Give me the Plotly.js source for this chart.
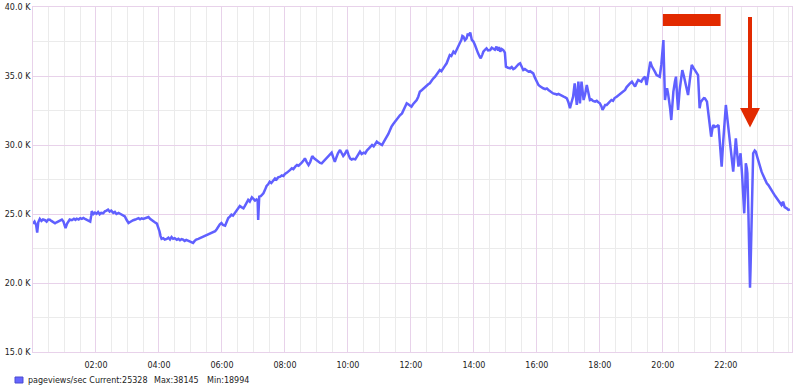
<!DOCTYPE html>
<html>
<head>
<meta charset="utf-8">
<script src="https://cdn.plot.ly/plotly-3.0.1.min.js"></script>
<style>
html,body{margin:0;padding:0;background:#fff;}
#chart{width:800px;height:390px;}
</style>
</head>
<body>
<div id="chart"></div>
<script>
// time in minutes since 00:00
const minutes = [
0,3,6,8,10,13,16,19,23,26,29,32,35,38,42,45,48,52,55,58,60,62,65,68,70,74,78,81,83,87,90,93,96,100,104,107,109,111,112,115,118,121,124,127,130,134,137,140,143,146,149,153,156,159,163,166,170,173,175,178,180,182,185,188,191,195,198,201,204,207,210,213,217,220,223,226,229,232,236,239,241,243,245,248,251,255,258,261,264,267,270,274,277,280,283,286,289,292,296,299,302,305,308,311,315,318,321,324,328,331,334,337,341,344,347,350,353,356,359,362,366,369,372,
375,378,381,385,388,391,394,397,401,404,407,410,413,417,420,423,426,428,429,431,434,437,439,442,445,448,451,454,458,461,464,467,471,474,477,480,484,487,490,493,496,500,503,506,509,512,515,518,521,525,528,532,535,538,540,544,547,550,553,556,560,563,566,569,572,575,578,581,585,588,591,594,598,601,604,607,610,614,617,620,623,626,630,633,636,640,643,646,649,652,655,658,662,665,668,671,674,677,680,683,686,690,693,696,699,703,706,709,712,715,718,721,724,727,731,734,737,741,744,747,
750,753,756,759,762,766,769,772,775,778,781,784,788,791,794,797,801,804,807,810,813,816,818,820,823,826,828,831,833,836,839,842,845,848,851,853,856,858,861,864,867,871,874,877,880,883,886,888,890,893,896,899,901,905,909,912,915,918,921,925,928,931,934,937,941,944,947,950,953,956,960,963,966,969,972,976,979,982,985,988,991,995,998,1001,1004,1008,1011,1014,1017,1020,1023,1026,1029,1032,1034,1036,1039,1042,1045,1047,1049,1052,1055,1058,1061,1064,1067,1071,1074,1077,1080,1083,1085,1088,1090,1093,1096,1099,1102,1105,1108,1112,1115,1118,
1121,1125,1128,1131,1134,1137,1141,1144,1147,1150,1153,1156,1159,1162,1166,1169,1172,1174,1176,1179,1182,1185,1188,1191,1194,1197,1199,1201,1202,1204,1206,1208,1210,1212,1214,1216,1218,1220,1223,1225,1227,1229,1232,1235,1237,1240,1242,1245,1248,1251,1255,1258,1261,1264,1267,1270,1272,1275,1278,1280,1282,1284,1286,1288,1290,1292,1294,1296,1299,1302,1304,1306,1309,1312,1315,1318,1320,1322,1325,1328,1330,1332,1334,1337,1339,1341,1344,1346,1348,1351,1353,1355,1357,1358,1360,1361,1363,1365,1366,1367,1369,1370,1372,1375,1377,1380,1382,1385,1388,1391,1394,1398,1401,1404,1407,1410,1414,1417,1420,1423,1426,1429,1432,1436,1439,1442
];
const pageviews = [
24300,24450,24200,23650,24400,24650,24500,24600,24550,24450,24600,24580,24500,24420,24330,24400,24480,24550,24600,24450,24200,23980,24300,24500,24600,24550,24650,24580,24660,24600,24700,24650,24720,24620,24550,24480,24450,24900,25200,25000,25100,25020,25150,24980,25080,25060,25200,25250,25320,25180,25250,25080,25150,25000,25080,25020,24950,24900,24820,24600,24450,24350,24420,24500,24550,24600,24680,24700,24620,24680,24640,24700,24720,24780,24650,24550,24470,24400,24300,24000,23740,23400,23200,23250,23150,23200,23280,23150,23330,23200,23250,23140,23200,23100,23180,23140,23050,23120,23050,23000,22950,22900,23050,23150,23200,23250,23300,23350,23400,23480,23500,23560,23650,23700,23750,23900,24100,24250,24350,24200,24150,24500,24710,
24810,24950,24880,25100,25200,25350,25580,25500,25410,25600,25850,26020,25900,26210,26100,25970,26050,25950,24570,26260,26300,26450,26500,26750,27030,27150,27340,27250,27450,27580,27500,27650,27700,27800,27750,27900,28000,28070,28200,28310,28250,28450,28550,28500,28650,28720,28850,29030,28800,28550,28750,29200,29050,28950,28910,28800,28700,28670,28800,28960,29100,29250,29350,29440,29100,28790,29100,29400,29640,29400,29200,29350,29640,29300,29030,28950,29000,28960,29150,29300,29520,29350,29450,29400,29600,29750,29850,30000,29900,30100,30240,30150,30050,30000,30200,30450,30600,30800,31100,31330,31500,31700,31930,32000,32150,32290,32500,32800,33020,32950,32850,32780,32950,33100,33260,33500,33860,33990,34100,34230,
34300,34400,34470,34650,34800,34950,35100,35300,35430,35350,35560,35700,35920,36200,36520,36450,36760,36650,36930,37100,37370,37600,37900,37850,37600,37730,38000,37970,38145,37610,37500,37250,36900,36640,36400,36280,36550,36760,36900,37000,36850,36880,37050,37000,36900,37130,36850,37100,36760,36950,36880,36700,35680,35600,35560,35650,35500,35560,35700,35850,35920,35600,35430,35500,35350,35310,35350,35250,35190,34900,34600,34350,34250,34150,34110,34050,34100,33990,33900,33850,33740,33700,33650,33700,33620,33550,33500,33450,33380,33100,32660,33100,33500,34470,33300,32900,34590,33020,34590,33800,33260,33700,34350,33800,33260,33300,33200,33140,33200,33100,33020,32800,32540,32750,32900,32900,33050,33150,33260,33200,33400,33500,33600,33700,
33800,33900,33990,34200,34350,34450,34590,34400,34230,34500,34710,34650,34590,34800,34950,34350,35190,35600,36040,35700,35430,35300,35070,35000,34950,35800,37000,37610,36000,33260,33800,34110,33700,33260,32600,31810,33000,33870,34600,34950,33600,32540,33990,34800,35430,35000,34590,34100,33620,34600,35800,35600,35430,35300,35070,32660,33100,33260,33400,33380,33250,33140,32500,31810,31200,30600,31100,31450,31300,31330,31380,31450,30000,28430,30300,32000,32900,32200,31090,30400,29760,29000,28070,29500,30480,29600,28430,28900,29400,27800,26200,25050,27000,28670,28300,27950,25000,21500,19650,21000,25530,27500,29400,29600,29520,29100,28790,28400,28070,27800,27500,27220,27100,26900,26740,26500,26300,26140,25950,25770,25650,25890,25500,25410,25300,25340
];
const seriesName = "pageviews/sec";
const statCurrent = 25328, statMax = 38145, statMin = 18994;

const xTickVals = [120,240,360,480,600,720,840,960,1080,1200,1320];
const xTickText = ["02:00","04:00","06:00","08:00","10:00","12:00","14:00","16:00","18:00","20:00","22:00"];
const yTickVals = [15000,20000,25000,30000,35000,40000];
const yTickText = ["15.0 K","20.0 K","25.0 K","30.0 K","35.0 K","40.0 K"];

const MAJOR = "#e8d2ea";
const MINOR = "#ebebeb";
const RED = "#e22a00";
const FONT = "DejaVu Sans";

const trace = {
  x: minutes, y: pageviews, type: "scatter", mode: "lines",
  name: seriesName,
  line: {color: "#6060ff", width: 2.5},
  hoverinfo: "skip"
};

const layout = {
  width: 800, height: 390,
  margin: {l: 33, r: 8, t: 7, b: 38, pad: 0},
  paper_bgcolor: "#ffffff", plot_bgcolor: "#ffffff",
  showlegend: false,
  font: {family: FONT, size: 8, color: "#222"},
  xaxis: {
    range: [0, 1446], tickmode: "array", tickvals: xTickVals, ticktext: xTickText,
    showgrid: true, gridcolor: MAJOR, gridwidth: 1,
    showline: true, linecolor: MAJOR, linewidth: 1, mirror: true,
    ticks: "", zeroline: false, fixedrange: true,
    tickfont: {family: FONT, size: 8, color: "#222"},
    ticklabelstandoff: 5,
    minor: {tickmode: "linear", tick0: 0, dtick: 30, showgrid: true, gridcolor: MINOR, gridwidth: 1, ticks: ""}
  },
  yaxis: {
    range: [15000, 40000], tickmode: "array", tickvals: yTickVals, ticktext: yTickText,
    showgrid: true, gridcolor: MAJOR, gridwidth: 1,
    showline: true, linecolor: MAJOR, linewidth: 1, mirror: true,
    ticks: "", zeroline: false, fixedrange: true,
    tickfont: {family: FONT, size: 8, color: "#222"},
    minor: {tickmode: "linear", tick0: 15000, dtick: 2500, showgrid: true, gridcolor: MINOR, gridwidth: 1, ticks: ""}
  },
  shapes: [
    // red bar annotation
    {type: "rect", xref: "x", yref: "y", x0: 1200, x1: 1310, y0: 38623, y1: 39493,
     fillcolor: RED, line: {width: 0}, layer: "above"},
    // arrow shaft
    {type: "line", xref: "x", yref: "y", x0: 1366, x1: 1366, y0: 39275, y1: 32600,
     line: {color: RED, width: 4}, layer: "above"},
    // arrow head
    {type: "path", xref: "x", yref: "y",
     path: "M 1347 32681 L 1385 32681 L 1366 31268 Z",
     fillcolor: RED, line: {width: 0}, layer: "above"},
    // legend swatch
    {type: "rect", xref: "paper", yref: "paper", x0: -0.0237, x1: -0.0132, y0: -0.0899, y1: -0.0725,
     fillcolor: "#6666ff", line: {color: "#4a4ad0", width: 1}}
  ],
  annotations: [
    {xref: "paper", yref: "paper", x: (26 - 33) / 759, y: -0.0812, xanchor: "left", yanchor: "middle",
     text: seriesName + " Current:" + statCurrent, showarrow: false, font: {family: FONT, size: 8, color: "#222"}},
    {xref: "paper", yref: "paper", x: (152 - 33) / 759, y: -0.0812, xanchor: "left", yanchor: "middle",
     text: "Max:" + statMax, showarrow: false, font: {family: FONT, size: 8, color: "#222"}},
    {xref: "paper", yref: "paper", x: (205 - 33) / 759, y: -0.0812, xanchor: "left", yanchor: "middle",
     text: "Min:" + statMin, showarrow: false, font: {family: FONT, size: 8, color: "#222"}}
  ]
};

Plotly.newPlot("chart", [trace], layout, {displayModeBar: false, staticPlot: true});
</script>
</body>
</html>
